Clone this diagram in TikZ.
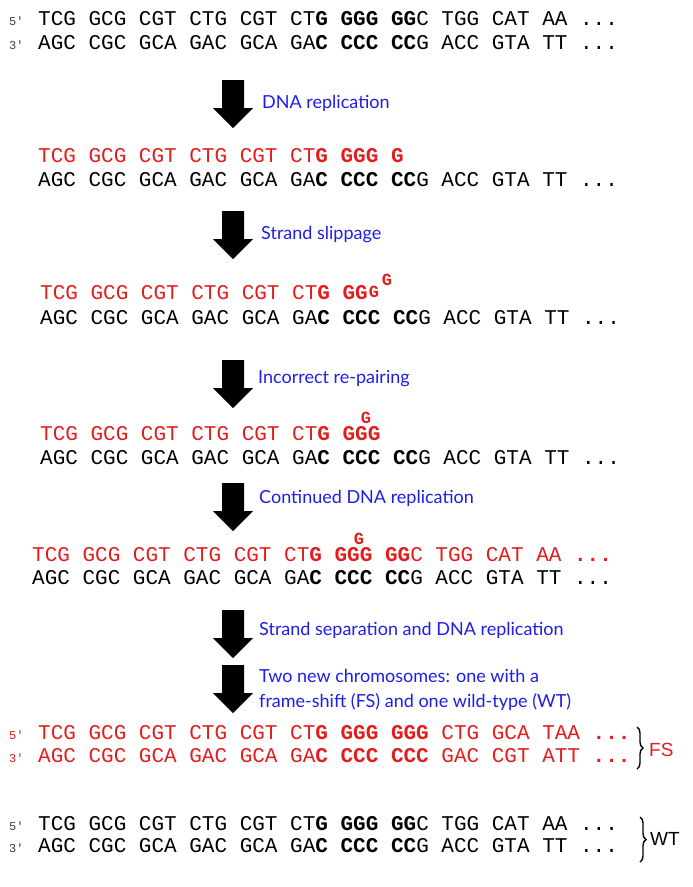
\documentclass[tikz,border=0pt]{standalone}
\usepackage{fontspec}
\setmainfont{Liberation Sans}
\newfontfamily\dnafont{Liberation Mono}
\newfontfamily\labfont{Lato}
\usetikzlibrary{decorations.pathreplacing}
\definecolor{dnared}{RGB}{228,28,28}
\definecolor{labblue}{RGB}{30,30,235}
\newcommand\B[1]{\textbf{#1}}
\tikzset{
  dna/.style={anchor=base west, inner sep=0pt, font=\dnafont\fontsize{21}{21}\selectfont},
  newdna/.style={dna, text=dnared},
  prime/.style={anchor=base west, inner sep=0pt, font=\dnafont\fontsize{12}{12}\selectfont, text=black!75},
  supg/.style={anchor=base, inner sep=0pt, text=dnared, font=\dnafont\bfseries\fontsize{17}{17}\selectfont},
  lab/.style={anchor=west, inner sep=0pt, text=labblue, font=\labfont\fontsize{18}{25}\selectfont},
  tag/.style={anchor=west, inner sep=0pt, font=\fontsize{19}{19}\selectfont},
  brc/.style={decorate, decoration={brace, amplitude=6pt}, line width=1.4pt},
  blkarrow/.pic={\fill[black] (-11,0) -- (11,0) -- (11,-28) -- (20,-28) -- (0,-48) -- (-20,-28) -- (-11,-28) -- cycle;}
}
\begin{document}
\begin{tikzpicture}[x=1pt,y=1pt]
\fill[white] (0,0) rectangle (693,-887);
\useasboundingbox (0,0) rectangle (693,-887);

% original duplex
\node[prime] (p1) at (9,-25) {5'};
\node[dna] (l1) at (38,-25) {TCG GCG CGT CTG CGT CT\B{G GGG GG}C TGG CAT AA ...};
\node[prime] (p2) at (9,-49) {3'};
\node[dna] (l2) at (38,-49) {AGC CGC GCA GAC GCA GA\B{C CCC CC}G ACC GTA TT ...};

\pic (a1) at (233,-80) {blkarrow};
\node[lab] (t1) at (262,-103) {DNA replication};

\node[newdna] (l3) at (38,-162) {TCG GCG CGT CTG CGT CT\B{G GGG G}};
\node[dna] (l4) at (38,-186) {AGC CGC GCA GAC GCA GA\B{C CCC CC}G ACC GTA TT ...};

\pic (a2) at (233,-211) {blkarrow};
\node[lab] (t2) at (261,-235) {Strand slippage};

\node[newdna] (l5) at (40,-299) {TCG GCG CGT CTG CGT CT\B{G GG}};
\node[supg] (g5a) at (374,-297) {G};
\node[supg] (g5b) at (387,-285) {G};
\node[dna] (l6) at (40,-324) {AGC CGC GCA GAC GCA GA\B{C CCC CC}G ACC GTA TT ...};

\pic (a3) at (233,-360) {blkarrow};
\node[lab] (t3) at (258,-379) {Incorrect re-pairing};

\node[supg] (g7) at (366,-423) {G};
\node[newdna] (l7) at (40,-440) {TCG GCG CGT CTG CGT CT\B{G GGG}};
\node[dna] (l8) at (40,-464) {AGC CGC GCA GAC GCA GA\B{C CCC CC}G ACC GTA TT ...};

\pic (a4) at (233,-483) {blkarrow};
\node[lab] (t4) at (259,-498) {Continued DNA replication};

\node[supg] (g9) at (359,-544) {G};
\node[newdna] (l9) at (32,-561) {TCG GCG CGT CTG CGT CT\B{G GGG GG}C TGG CAT AA \B{...}};
\node[dna] (l10) at (32,-584) {AGC CGC GCA GAC GCA GA\B{C CCC CC}G ACC GTA TT ...};

\pic (a5) at (233,-610) {blkarrow};
\node[lab] (t5) at (259,-630) {Strand separation and DNA replication};

\pic (a6) at (233,-665) {blkarrow};
\node[lab, align=left] (t6) at (259,-689.5) {Two new chromosomes: one with a\\frame-shift (FS) and one wild-type (WT)};

% frame-shift chromosome
\node[prime, text=dnared] (p11) at (9,-739) {5'};
\node[newdna] (l11) at (38,-739) {TCG GCG CGT CTG CGT CT\B{G GGG GGG} CTG GCA TAA \B{...}};
\node[prime, text=dnared] (p12) at (9,-762) {3'};
\node[newdna] (l12) at (38,-762) {AGC CGC GCA GAC GCA GA\B{C CCC CCC} GAC CGT ATT \B{...}};
\coordinate (fsTop) at (637,-727);
\coordinate (fsBot) at (637,-769);
\draw[brc] (fsTop) -- (fsBot);
\node[tag, text=dnared] (fs) at (649,-750) {FS};

% wild-type chromosome
\node[prime] (p13) at (9,-830) {5'};
\node[dna] (l13) at (38,-830) {TCG GCG CGT CTG CGT CT\B{G GGG GG}C TGG CAT AA ...};
\node[prime] (p14) at (9,-852) {3'};
\node[dna] (l14) at (38,-852) {AGC CGC GCA GAC GCA GA\B{C CCC CC}G ACC GTA TT ...};
\coordinate (wtTop) at (640,-817);
\coordinate (wtBot) at (640,-862);
\draw[brc] (wtTop) -- (wtBot);
\node[tag] (wt) at (650,-839) {WT};
\end{tikzpicture}
\end{document}
